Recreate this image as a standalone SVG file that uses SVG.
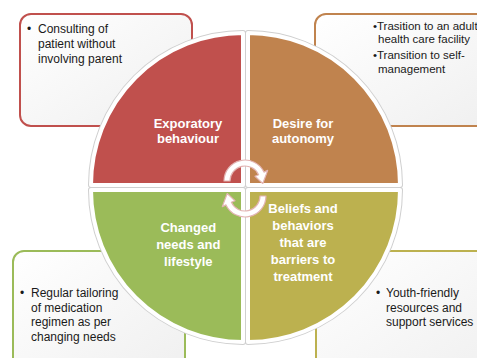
<svg xmlns="http://www.w3.org/2000/svg" width="477" height="358" viewBox="0 0 477 358">
  <defs>
    <linearGradient id="boxFill" x1="0" y1="0" x2="1" y2="1">
      <stop offset="0" stop-color="#ffffff"/>
      <stop offset="1" stop-color="#efefef"/>
    </linearGradient>
    <style>
      .box { fill: url(#boxFill); stroke-width: 2; }
      .note { font-family: "Liberation Sans", Arial, sans-serif; font-size: 12px; fill: #1a1a1a; }
      .note-sm { font-family: "Liberation Sans", Arial, sans-serif; font-size: 11.5px; fill: #1a1a1a; }
      .halo { fill: none; stroke: #cfcfcf; stroke-width: 6; stroke-linejoin: round; }
      .slice { stroke: #ffffff; stroke-width: 4; stroke-linejoin: round; }
      .label { font-family: "Liberation Sans", Arial, sans-serif; font-size: 13px; font-weight: bold; fill: #ffffff; text-anchor: middle; }
      .cycle { fill: #ffffff; stroke: #e3b4b3; stroke-width: 1.2; stroke-linejoin: round; }
    </style>
  </defs>

  <!-- side notes -->
  <g id="note-exploratory">
    <rect class="box" x="20" y="14" width="172" height="112" rx="11" stroke="#C0504D"/>
    <text class="note" x="27" y="32.5">•</text>
    <text class="note" x="38" y="32.5">Consulting of</text>
    <text class="note" x="38" y="47.5">patient without</text>
    <text class="note" x="38" y="62.5">involving parent</text>
  </g>
  <g id="note-autonomy">
    <rect class="box" x="315" y="14" width="190" height="112" rx="11" stroke="#C0834E"/>
    <text class="note-sm" x="373" y="29.5">•Trasition to an adult</text>
    <text class="note-sm" x="378" y="43">health care facility</text>
    <text class="note-sm" x="373" y="59">•Transition to self-</text>
    <text class="note-sm" x="378" y="72.5">management</text>
  </g>
  <g id="note-lifestyle">
    <rect class="box" x="13" y="251" width="172" height="130" rx="11" stroke="#9BBB59"/>
    <text class="note" x="20" y="297">•</text>
    <text class="note" x="31" y="297">Regular tailoring</text>
    <text class="note" x="31" y="311.7">of medication</text>
    <text class="note" x="31" y="326.4">regimen as per</text>
    <text class="note" x="31" y="341">changing needs</text>
  </g>
  <g id="note-barriers">
    <rect class="box" x="316" y="251" width="190" height="130" rx="11" stroke="#BCB14F"/>
    <text class="note" x="376" y="297">•</text>
    <text class="note" x="386" y="297">Youth-friendly</text>
    <text class="note" x="386" y="311.5">resources and</text>
    <text class="note" x="386" y="326">support services</text>
  </g>

  <!-- four quadrants of the cycle -->
  <g id="quadrant-exploratory">
    <path class="halo" d="M243,185 L91,185 A152,152 0 0 1 243,33 Z"/>
    <path class="slice" fill="#C0504D" d="M243,185 L91,185 A152,152 0 0 1 243,33 Z"/>
    <text class="label" x="188" y="128.3">Exporatory</text>
    <text class="label" x="188" y="142.8">behaviour</text>
  </g>
  <g id="quadrant-autonomy">
    <path class="halo" d="M248,185 L248,33 A152,152 0 0 1 400,185 Z"/>
    <path class="slice" fill="#C0834E" d="M248,185 L248,33 A152,152 0 0 1 400,185 Z"/>
    <text class="label" x="303" y="127.5">Desire for</text>
    <text class="label" x="303" y="142.5">autonomy</text>
  </g>
  <g id="quadrant-lifestyle">
    <path class="halo" d="M243,190 L243,342 A152,152 0 0 1 91,190 Z"/>
    <path class="slice" fill="#9BBB59" d="M243,190 L243,342 A152,152 0 0 1 91,190 Z"/>
    <text class="label" x="188.3" y="232.3">Changed</text>
    <text class="label" x="188.3" y="249">needs and</text>
    <text class="label" x="188.3" y="265.5">lifestyle</text>
  </g>
  <g id="quadrant-barriers">
    <path class="halo" d="M248,190 L400,190 A152,152 0 0 1 248,342 Z"/>
    <path class="slice" fill="#BCB14F" d="M248,190 L400,190 A152,152 0 0 1 248,342 Z"/>
    <text class="label" x="303" y="212.5">Beliefs and</text>
    <text class="label" x="303" y="229.8">behaviors</text>
    <text class="label" x="303" y="247">that are</text>
    <text class="label" x="303" y="264.3">barriers to</text>
    <text class="label" x="303" y="281.3">treatment</text>
  </g>

  <!-- circular arrows in the middle -->
  <g id="connectors">
    <path class="cycle" d="M224,181 A21,21 0 0 1 264,172.1 L267.7,170.4 L262.8,183.5 L255,176.3 L258.6,174.7 A15,15 0 0 0 230,181 Z"/>
    <path class="cycle" transform="rotate(180 245 188.5)" d="M224,181 A21,21 0 0 1 264,172.1 L267.7,170.4 L262.8,183.5 L255,176.3 L258.6,174.7 A15,15 0 0 0 230,181 Z"/>
  </g>
</svg>
